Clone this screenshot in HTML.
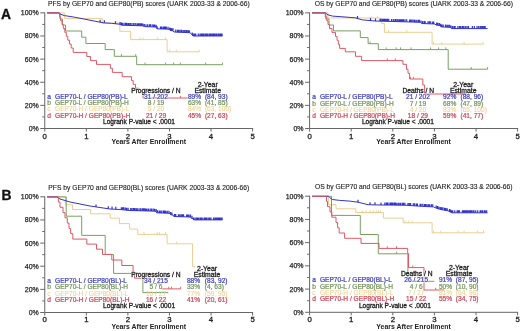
<!DOCTYPE html><html><head><meta charset="utf-8"><style>html,body{margin:0;padding:0;background:#fff;overflow:hidden}svg{display:block;will-change:transform}</style></head><body><svg width="520" height="331" viewBox="0 0 520 331" font-family='"Liberation Sans", sans-serif'>
<rect width="520" height="331" fill="#fff"/>
<text x="1.00" y="18.80" font-size="13.9" fill="#111" text-anchor="start" font-weight="bold" stroke="#111" stroke-width="0.3" >A</text>
<text x="1.60" y="199.90" font-size="13.9" fill="#111" text-anchor="start" font-weight="bold" stroke="#111" stroke-width="0.3" >B</text>
<path d="M44.75 12.35V128.5H253.1" stroke="#666" stroke-width="1" fill="none"/>
<path d="M40.25 128.50H44.75" stroke="#666" stroke-width="1"/>
<text x="38.75" y="130.95" font-size="7.7" fill="#222" text-anchor="end" font-weight="normal" stroke="#222" stroke-width="0.25" textLength="10.12" lengthAdjust="spacingAndGlyphs">0%</text>
<path d="M42.25 116.94H44.75" stroke="#666" stroke-width="1"/>
<path d="M40.25 105.37H44.75" stroke="#666" stroke-width="1"/>
<text x="38.75" y="107.82" font-size="7.7" fill="#222" text-anchor="end" font-weight="normal" stroke="#222" stroke-width="0.25" textLength="14.01" lengthAdjust="spacingAndGlyphs">20%</text>
<path d="M42.25 93.81H44.75" stroke="#666" stroke-width="1"/>
<path d="M40.25 82.24H44.75" stroke="#666" stroke-width="1"/>
<text x="38.75" y="84.69" font-size="7.7" fill="#222" text-anchor="end" font-weight="normal" stroke="#222" stroke-width="0.25" textLength="14.01" lengthAdjust="spacingAndGlyphs">40%</text>
<path d="M42.25 70.67H44.75" stroke="#666" stroke-width="1"/>
<path d="M40.25 59.11H44.75" stroke="#666" stroke-width="1"/>
<text x="38.75" y="61.56" font-size="7.7" fill="#222" text-anchor="end" font-weight="normal" stroke="#222" stroke-width="0.25" textLength="14.01" lengthAdjust="spacingAndGlyphs">60%</text>
<path d="M42.25 47.54H44.75" stroke="#666" stroke-width="1"/>
<path d="M40.25 35.98H44.75" stroke="#666" stroke-width="1"/>
<text x="38.75" y="38.43" font-size="7.7" fill="#222" text-anchor="end" font-weight="normal" stroke="#222" stroke-width="0.25" textLength="14.01" lengthAdjust="spacingAndGlyphs">80%</text>
<path d="M42.25 24.41H44.75" stroke="#666" stroke-width="1"/>
<path d="M40.25 12.85H44.75" stroke="#666" stroke-width="1"/>
<text x="38.75" y="15.30" font-size="7.7" fill="#222" text-anchor="end" font-weight="normal" stroke="#222" stroke-width="0.25" textLength="17.90" lengthAdjust="spacingAndGlyphs">100%</text>
<path d="M44.75 128.5V131.5" stroke="#666" stroke-width="1"/>
<text x="44.75" y="138.50" font-size="7.8" fill="#222" text-anchor="middle" font-weight="normal" stroke="#222" stroke-width="0.3" >0</text>
<path d="M86.32 128.5V131.5" stroke="#666" stroke-width="1"/>
<text x="86.32" y="138.50" font-size="7.8" fill="#222" text-anchor="middle" font-weight="normal" stroke="#222" stroke-width="0.3" >1</text>
<path d="M127.89 128.5V131.5" stroke="#666" stroke-width="1"/>
<text x="127.89" y="138.50" font-size="7.8" fill="#222" text-anchor="middle" font-weight="normal" stroke="#222" stroke-width="0.3" >2</text>
<path d="M169.46 128.5V131.5" stroke="#666" stroke-width="1"/>
<text x="169.46" y="138.50" font-size="7.8" fill="#222" text-anchor="middle" font-weight="normal" stroke="#222" stroke-width="0.3" >3</text>
<path d="M211.03 128.5V131.5" stroke="#666" stroke-width="1"/>
<text x="211.03" y="138.50" font-size="7.8" fill="#222" text-anchor="middle" font-weight="normal" stroke="#222" stroke-width="0.3" >4</text>
<path d="M252.60 128.5V131.5" stroke="#666" stroke-width="1"/>
<text x="252.60" y="138.50" font-size="7.8" fill="#222" text-anchor="middle" font-weight="normal" stroke="#222" stroke-width="0.3" >5</text>
<text x="148.68" y="144.40" font-size="6.95" fill="#222" text-anchor="middle" font-weight="bold" >Years After Enrollment</text>
<text x="48.00" y="5.60" font-size="6.72" fill="#222" text-anchor="start" font-weight="normal" stroke="#222" stroke-width="0.12" >PFS by GEP70 and GEP80(PB) scores (UARK 2003-33 &amp; 2006-66)</text>
<path d="M309.6 12.35V128.5H518.1" stroke="#666" stroke-width="1" fill="none"/>
<path d="M305.1 128.50H309.6" stroke="#666" stroke-width="1"/>
<text x="303.60" y="130.95" font-size="7.7" fill="#222" text-anchor="end" font-weight="normal" stroke="#222" stroke-width="0.25" textLength="10.12" lengthAdjust="spacingAndGlyphs">0%</text>
<path d="M307.1 116.94H309.6" stroke="#666" stroke-width="1"/>
<path d="M305.1 105.37H309.6" stroke="#666" stroke-width="1"/>
<text x="303.60" y="107.82" font-size="7.7" fill="#222" text-anchor="end" font-weight="normal" stroke="#222" stroke-width="0.25" textLength="14.01" lengthAdjust="spacingAndGlyphs">20%</text>
<path d="M307.1 93.81H309.6" stroke="#666" stroke-width="1"/>
<path d="M305.1 82.24H309.6" stroke="#666" stroke-width="1"/>
<text x="303.60" y="84.69" font-size="7.7" fill="#222" text-anchor="end" font-weight="normal" stroke="#222" stroke-width="0.25" textLength="14.01" lengthAdjust="spacingAndGlyphs">40%</text>
<path d="M307.1 70.67H309.6" stroke="#666" stroke-width="1"/>
<path d="M305.1 59.11H309.6" stroke="#666" stroke-width="1"/>
<text x="303.60" y="61.56" font-size="7.7" fill="#222" text-anchor="end" font-weight="normal" stroke="#222" stroke-width="0.25" textLength="14.01" lengthAdjust="spacingAndGlyphs">60%</text>
<path d="M307.1 47.54H309.6" stroke="#666" stroke-width="1"/>
<path d="M305.1 35.98H309.6" stroke="#666" stroke-width="1"/>
<text x="303.60" y="38.43" font-size="7.7" fill="#222" text-anchor="end" font-weight="normal" stroke="#222" stroke-width="0.25" textLength="14.01" lengthAdjust="spacingAndGlyphs">80%</text>
<path d="M307.1 24.41H309.6" stroke="#666" stroke-width="1"/>
<path d="M305.1 12.85H309.6" stroke="#666" stroke-width="1"/>
<text x="303.60" y="15.30" font-size="7.7" fill="#222" text-anchor="end" font-weight="normal" stroke="#222" stroke-width="0.25" textLength="17.90" lengthAdjust="spacingAndGlyphs">100%</text>
<path d="M309.60 128.5V131.5" stroke="#666" stroke-width="1"/>
<text x="309.60" y="138.50" font-size="7.8" fill="#222" text-anchor="middle" font-weight="normal" stroke="#222" stroke-width="0.3" >0</text>
<path d="M351.20 128.5V131.5" stroke="#666" stroke-width="1"/>
<text x="351.20" y="138.50" font-size="7.8" fill="#222" text-anchor="middle" font-weight="normal" stroke="#222" stroke-width="0.3" >1</text>
<path d="M392.80 128.5V131.5" stroke="#666" stroke-width="1"/>
<text x="392.80" y="138.50" font-size="7.8" fill="#222" text-anchor="middle" font-weight="normal" stroke="#222" stroke-width="0.3" >2</text>
<path d="M434.40 128.5V131.5" stroke="#666" stroke-width="1"/>
<text x="434.40" y="138.50" font-size="7.8" fill="#222" text-anchor="middle" font-weight="normal" stroke="#222" stroke-width="0.3" >3</text>
<path d="M476.00 128.5V131.5" stroke="#666" stroke-width="1"/>
<text x="476.00" y="138.50" font-size="7.8" fill="#222" text-anchor="middle" font-weight="normal" stroke="#222" stroke-width="0.3" >4</text>
<path d="M517.60 128.5V131.5" stroke="#666" stroke-width="1"/>
<text x="517.60" y="138.50" font-size="7.8" fill="#222" text-anchor="middle" font-weight="normal" stroke="#222" stroke-width="0.3" >5</text>
<text x="413.60" y="144.40" font-size="6.95" fill="#222" text-anchor="middle" font-weight="bold" >Years After Enrollment</text>
<text x="314.75" y="5.60" font-size="6.72" fill="#222" text-anchor="start" font-weight="normal" stroke="#222" stroke-width="0.12" >OS by GEP70 and GEP80(PB) scores (UARK 2003-33 &amp; 2006-66)</text>
<path d="M44.75 196.3V312.5H253.1" stroke="#666" stroke-width="1" fill="none"/>
<path d="M40.25 312.50H44.75" stroke="#666" stroke-width="1"/>
<text x="38.75" y="314.95" font-size="7.7" fill="#222" text-anchor="end" font-weight="normal" stroke="#222" stroke-width="0.25" textLength="10.12" lengthAdjust="spacingAndGlyphs">0%</text>
<path d="M42.25 300.93H44.75" stroke="#666" stroke-width="1"/>
<path d="M40.25 289.36H44.75" stroke="#666" stroke-width="1"/>
<text x="38.75" y="291.81" font-size="7.7" fill="#222" text-anchor="end" font-weight="normal" stroke="#222" stroke-width="0.25" textLength="14.01" lengthAdjust="spacingAndGlyphs">20%</text>
<path d="M42.25 277.79H44.75" stroke="#666" stroke-width="1"/>
<path d="M40.25 266.22H44.75" stroke="#666" stroke-width="1"/>
<text x="38.75" y="268.67" font-size="7.7" fill="#222" text-anchor="end" font-weight="normal" stroke="#222" stroke-width="0.25" textLength="14.01" lengthAdjust="spacingAndGlyphs">40%</text>
<path d="M42.25 254.65H44.75" stroke="#666" stroke-width="1"/>
<path d="M40.25 243.08H44.75" stroke="#666" stroke-width="1"/>
<text x="38.75" y="245.53" font-size="7.7" fill="#222" text-anchor="end" font-weight="normal" stroke="#222" stroke-width="0.25" textLength="14.01" lengthAdjust="spacingAndGlyphs">60%</text>
<path d="M42.25 231.51H44.75" stroke="#666" stroke-width="1"/>
<path d="M40.25 219.94H44.75" stroke="#666" stroke-width="1"/>
<text x="38.75" y="222.39" font-size="7.7" fill="#222" text-anchor="end" font-weight="normal" stroke="#222" stroke-width="0.25" textLength="14.01" lengthAdjust="spacingAndGlyphs">80%</text>
<path d="M42.25 208.37H44.75" stroke="#666" stroke-width="1"/>
<path d="M40.25 196.80H44.75" stroke="#666" stroke-width="1"/>
<text x="38.75" y="199.25" font-size="7.7" fill="#222" text-anchor="end" font-weight="normal" stroke="#222" stroke-width="0.25" textLength="17.90" lengthAdjust="spacingAndGlyphs">100%</text>
<path d="M44.75 312.5V315.5" stroke="#666" stroke-width="1"/>
<text x="44.75" y="322.30" font-size="7.8" fill="#222" text-anchor="middle" font-weight="normal" stroke="#222" stroke-width="0.3" >0</text>
<path d="M86.32 312.5V315.5" stroke="#666" stroke-width="1"/>
<text x="86.32" y="322.30" font-size="7.8" fill="#222" text-anchor="middle" font-weight="normal" stroke="#222" stroke-width="0.3" >1</text>
<path d="M127.89 312.5V315.5" stroke="#666" stroke-width="1"/>
<text x="127.89" y="322.30" font-size="7.8" fill="#222" text-anchor="middle" font-weight="normal" stroke="#222" stroke-width="0.3" >2</text>
<path d="M169.46 312.5V315.5" stroke="#666" stroke-width="1"/>
<text x="169.46" y="322.30" font-size="7.8" fill="#222" text-anchor="middle" font-weight="normal" stroke="#222" stroke-width="0.3" >3</text>
<path d="M211.03 312.5V315.5" stroke="#666" stroke-width="1"/>
<text x="211.03" y="322.30" font-size="7.8" fill="#222" text-anchor="middle" font-weight="normal" stroke="#222" stroke-width="0.3" >4</text>
<path d="M252.60 312.5V315.5" stroke="#666" stroke-width="1"/>
<text x="252.60" y="322.30" font-size="7.8" fill="#222" text-anchor="middle" font-weight="normal" stroke="#222" stroke-width="0.3" >5</text>
<text x="148.68" y="328.50" font-size="6.95" fill="#222" text-anchor="middle" font-weight="bold" >Years After Enrollment</text>
<text x="48.30" y="189.50" font-size="6.72" fill="#222" text-anchor="start" font-weight="normal" stroke="#222" stroke-width="0.12" >PFS by GEP70 and GEP80(BL) scores (UARK 2003-33 &amp; 2006-66)</text>
<path d="M309.6 195.7V312.3H518.1" stroke="#666" stroke-width="1" fill="none"/>
<path d="M305.1 312.30H309.6" stroke="#666" stroke-width="1"/>
<text x="303.60" y="314.75" font-size="7.7" fill="#222" text-anchor="end" font-weight="normal" stroke="#222" stroke-width="0.25" textLength="10.12" lengthAdjust="spacingAndGlyphs">0%</text>
<path d="M307.1 300.69H309.6" stroke="#666" stroke-width="1"/>
<path d="M305.1 289.08H309.6" stroke="#666" stroke-width="1"/>
<text x="303.60" y="291.53" font-size="7.7" fill="#222" text-anchor="end" font-weight="normal" stroke="#222" stroke-width="0.25" textLength="14.01" lengthAdjust="spacingAndGlyphs">20%</text>
<path d="M307.1 277.47H309.6" stroke="#666" stroke-width="1"/>
<path d="M305.1 265.86H309.6" stroke="#666" stroke-width="1"/>
<text x="303.60" y="268.31" font-size="7.7" fill="#222" text-anchor="end" font-weight="normal" stroke="#222" stroke-width="0.25" textLength="14.01" lengthAdjust="spacingAndGlyphs">40%</text>
<path d="M307.1 254.25H309.6" stroke="#666" stroke-width="1"/>
<path d="M305.1 242.64H309.6" stroke="#666" stroke-width="1"/>
<text x="303.60" y="245.09" font-size="7.7" fill="#222" text-anchor="end" font-weight="normal" stroke="#222" stroke-width="0.25" textLength="14.01" lengthAdjust="spacingAndGlyphs">60%</text>
<path d="M307.1 231.03H309.6" stroke="#666" stroke-width="1"/>
<path d="M305.1 219.42H309.6" stroke="#666" stroke-width="1"/>
<text x="303.60" y="221.87" font-size="7.7" fill="#222" text-anchor="end" font-weight="normal" stroke="#222" stroke-width="0.25" textLength="14.01" lengthAdjust="spacingAndGlyphs">80%</text>
<path d="M307.1 207.81H309.6" stroke="#666" stroke-width="1"/>
<path d="M305.1 196.20H309.6" stroke="#666" stroke-width="1"/>
<text x="303.60" y="198.65" font-size="7.7" fill="#222" text-anchor="end" font-weight="normal" stroke="#222" stroke-width="0.25" textLength="17.90" lengthAdjust="spacingAndGlyphs">100%</text>
<path d="M309.60 312.3V315.3" stroke="#666" stroke-width="1"/>
<text x="309.60" y="322.10" font-size="7.8" fill="#222" text-anchor="middle" font-weight="normal" stroke="#222" stroke-width="0.3" >0</text>
<path d="M351.20 312.3V315.3" stroke="#666" stroke-width="1"/>
<text x="351.20" y="322.10" font-size="7.8" fill="#222" text-anchor="middle" font-weight="normal" stroke="#222" stroke-width="0.3" >1</text>
<path d="M392.80 312.3V315.3" stroke="#666" stroke-width="1"/>
<text x="392.80" y="322.10" font-size="7.8" fill="#222" text-anchor="middle" font-weight="normal" stroke="#222" stroke-width="0.3" >2</text>
<path d="M434.40 312.3V315.3" stroke="#666" stroke-width="1"/>
<text x="434.40" y="322.10" font-size="7.8" fill="#222" text-anchor="middle" font-weight="normal" stroke="#222" stroke-width="0.3" >3</text>
<path d="M476.00 312.3V315.3" stroke="#666" stroke-width="1"/>
<text x="476.00" y="322.10" font-size="7.8" fill="#222" text-anchor="middle" font-weight="normal" stroke="#222" stroke-width="0.3" >4</text>
<path d="M517.60 312.3V315.3" stroke="#666" stroke-width="1"/>
<text x="517.60" y="322.10" font-size="7.8" fill="#222" text-anchor="middle" font-weight="normal" stroke="#222" stroke-width="0.3" >5</text>
<text x="413.60" y="328.50" font-size="6.95" fill="#222" text-anchor="middle" font-weight="bold" >Years After Enrollment</text>
<text x="315.00" y="189.20" font-size="6.72" fill="#222" text-anchor="start" font-weight="normal" stroke="#222" stroke-width="0.12" >OS by GEP70 and GEP80(BL) scores (UARK 2003-33 &amp; 2006-66)</text>
<path d="M47.00 12.90H64.40V18.40H102.30V23.10H119.80V31.30H130.60V39.60H167.10V51.80H199.10V51.80" stroke="#edcd90" stroke-width="1.0" fill="none"/>
<path d="M140.00 39.60V37.40M143.00 39.60V37.40M157.30 39.60V37.40M165.50 39.60V37.40M169.60 51.80V49.60M176.30 51.80V49.60M199.10 51.80V49.60" stroke="#edcd90" stroke-width="0.9" fill="none"/>
<path d="M47.00 12.90H60.00V19.00H62.50V25.00H65.50V31.00H81.70V37.20H85.90V43.50H105.20V49.60H114.30V56.30H136.70V64.70H222.50V64.70" stroke="#78a062" stroke-width="1.0" fill="none"/>
<path d="M121.50 56.30V54.10M135.70 56.30V54.10M145.00 64.70V62.50M165.50 64.70V62.50M173.60 64.70V62.50M180.40 64.70V62.50M205.60 64.70V62.50M222.50 64.70V62.50" stroke="#78a062" stroke-width="0.9" fill="none"/>
<path d="M47.00 12.90 L58.50 12.90 L59.30 13.80 L64.40 15.60 L74.60 17.20 L84.80 19.20 L95.00 21.20 L103.20 22.80 L111.30 23.30 L119.50 24.20 L121.50 25.20 L142.50 25.80 L144.50 26.60 L156.00 27.00 L157.00 28.80 L169.00 29.20 L170.00 30.40 L173.00 30.80 L174.00 32.00 L190.00 32.70 L191.50 34.00 L193.00 36.00 L222.50 36.00" stroke="#3333c8" stroke-width="1.0" fill="none"/>
<path d="M100.11 22.20V19.70M104.36 22.87V20.37M115.49 23.76V21.26M120.00 24.45V21.95M121.33 25.12V22.62M122.40 25.23V22.73M124.05 25.27V22.77M125.59 25.32V22.82M126.59 25.35V22.85M128.01 25.39V22.89M128.98 25.41V22.91M130.31 25.45V22.95M131.97 25.50V23.00M133.66 25.55V23.05M135.25 25.59V23.09M136.95 25.64V23.14M137.98 25.67V23.17M139.10 25.70V23.20M140.40 25.74V23.24M141.59 25.77V23.27M142.84 25.94V23.44M144.26 26.51V24.01M145.94 26.65V24.15M147.64 26.71V24.21M149.39 26.77V24.27M150.46 26.81V24.31M152.19 26.87V24.37M153.59 26.92V24.42M154.71 26.96V24.46M156.12 27.22V24.72M157.12 28.80V26.30M160.46 28.92V26.42M161.52 28.95V26.45M163.09 29.00V26.50M164.07 29.04V26.54M165.05 29.07V26.57M166.27 29.11V26.61M168.01 29.17V26.67M169.76 30.11V27.61M170.77 30.50V28.00M171.74 30.63V28.13M173.01 30.82V28.32M175.73 32.08V29.58M177.45 32.15V29.65M178.71 32.21V29.71M180.07 32.27V29.77M181.50 32.33V29.83M182.95 32.39V29.89M184.30 32.45V29.95M185.83 32.52V30.02M187.02 32.57V30.07M188.39 32.63V30.13M189.34 32.67V30.17M192.20 34.93V32.43M193.19 36.00V33.50M194.52 36.00V33.50M195.75 36.00V33.50M198.28 36.00V33.50M200.01 36.00V33.50M201.32 36.00V33.50M202.53 36.00V33.50M203.73 36.00V33.50M205.15 36.00V33.50M206.40 36.00V33.50M207.37 36.00V33.50M208.91 36.00V33.50M210.04 36.00V33.50M211.17 36.00V33.50M212.47 36.00V33.50M213.50 36.00V33.50M214.71 36.00V33.50M216.01 36.00V33.50M217.10 36.00V33.50M218.57 36.00V33.50M219.88 36.00V33.50M220.92 36.00V33.50M222.02 36.00V33.50" stroke="#3333c8" stroke-width="1.2" fill="none"/>
<path d="M47.00 12.90H59.50V16.80H60.60V20.70H62.00V24.60H63.30V28.50H64.80V32.40H66.30V36.30H67.80V40.20H69.50V44.10H71.20V48.00H73.20V52.40H86.80V56.50H90.50V60.60H96.50V64.40H110.40V68.30H112.40V72.40H122.20V76.70H131.50V80.60H133.20V84.40H135.50V88.20H138.50V92.20H143.00V98.00H187.70V98.00" stroke="#e05866" stroke-width="1.0" fill="none"/>
<path d="M180.40 98.00V95.80" stroke="#e05866" stroke-width="0.9" fill="none"/>
<path d="M312.00 12.90H328.00V18.00H381.20V23.30H384.40V32.30H432.10V44.10H483.50V44.10" stroke="#edcd90" stroke-width="1.0" fill="none"/>
<path d="M357.50 18.00V15.80M371.20 18.00V15.80M377.50 18.00V15.80M388.50 32.30V30.10M406.80 32.30V30.10M433.50 44.10V41.90M441.70 44.10V41.90M464.10 44.10V41.90M483.10 44.10V41.90" stroke="#edcd90" stroke-width="0.9" fill="none"/>
<path d="M312.00 12.90H325.80V19.00H329.00V25.00H333.50V30.90H360.30V37.60H368.10V43.70H378.30V49.60H448.20V69.20H487.60V69.20" stroke="#78a062" stroke-width="1.0" fill="none"/>
<path d="M370.00 43.70V41.50M386.20 49.60V47.40M396.20 49.60V47.40M400.50 49.60V47.40M411.00 49.60V47.40M430.50 49.60V47.40M438.60 49.60V47.40M445.80 49.60V47.40M471.20 69.20V67.00M487.60 69.20V67.00" stroke="#78a062" stroke-width="0.9" fill="none"/>
<path d="M312.00 12.90 L325.60 12.90 L327.00 14.50 L332.50 16.10 L345.00 17.00 L355.00 17.80 L362.50 19.90 L375.00 21.00 L405.00 21.80 L420.50 22.30 L421.50 23.50 L435.00 24.00 L436.00 25.00 L440.00 25.50 L441.00 26.90 L450.30 27.30 L451.30 28.60 L487.60 28.60" stroke="#3333c8" stroke-width="1.0" fill="none"/>
<path d="M357.50 18.50V16.00M370.50 20.60V18.10M375.50 21.01V18.51M380.00 21.13V18.63M381.17 21.16V18.66M382.64 21.20V18.70M383.86 21.24V18.74M385.04 21.27V18.77M386.21 21.30V18.80M387.49 21.33V18.83M388.77 21.37V18.87M391.55 21.44V18.94M393.29 21.49V18.99M395.01 21.53V19.03M396.13 21.56V19.06M397.75 21.61V19.11M399.12 21.64V19.14M400.34 21.68V19.18M401.34 21.70V19.20M402.52 21.73V19.23M403.50 21.76V19.26M405.01 21.80V19.30M406.68 21.85V19.35M409.64 21.95V19.45M410.83 21.99V19.49M412.20 22.03V19.53M413.90 22.09V19.59M415.12 22.13V19.63M416.77 22.18V19.68M418.34 22.23V19.73M419.45 22.27V19.77M421.06 22.97V20.47M422.64 23.54V21.04M424.24 23.60V21.10M425.19 23.64V21.14M428.00 23.74V21.24M429.37 23.79V21.29M430.70 23.84V21.34M432.69 23.91V21.41M433.69 23.95V21.45M436.68 25.09V22.59M437.88 25.24V22.74M439.35 25.42V22.92M440.59 26.33V23.83M441.80 26.93V24.43M443.20 26.99V24.49M445.54 27.10V24.60M446.97 27.16V24.66M448.23 27.21V24.71M449.68 27.27V24.77M450.92 28.11V25.61M452.44 28.60V26.10M453.94 28.60V26.10M455.09 28.60V26.10M457.88 28.60V26.10M459.54 28.60V26.10M460.79 28.60V26.10M462.38 28.60V26.10M463.70 28.60V26.10M465.30 28.60V26.10M466.96 28.60V26.10M468.45 28.60V26.10M472.33 28.60V26.10M474.34 28.60V26.10M477.06 28.60V26.10M478.69 28.60V26.10M480.31 28.60V26.10M481.72 28.60V26.10M482.70 28.60V26.10M484.06 28.60V26.10M485.09 28.60V26.10" stroke="#3333c8" stroke-width="1.2" fill="none"/>
<path d="M312.00 12.90H325.30V16.80H326.80V20.70H328.00V24.60H329.50V28.50H332.00V32.40H335.50V36.40H337.00V40.30H338.30V44.30H339.60V48.40H345.30V51.80H355.50V56.30H361.60V60.60H402.90V64.30H406.50V69.30H408.00V73.30H409.60V79.00H422.80V85.00H424.60V94.00H466.00V94.00" stroke="#e05866" stroke-width="1.0" fill="none"/>
<path d="M387.30 60.60V58.40M395.30 60.60V58.40M410.60 79.00V76.80M413.60 79.00V76.80" stroke="#e05866" stroke-width="0.9" fill="none"/>
<path d="M47.00 196.90H65.40V204.80H72.50V209.50H90.60V213.80H110.20V218.10H119.40V223.60H129.60V229.10H137.80V234.40H167.10V243.80H192.60V266.60H195.00V266.60" stroke="#edcd90" stroke-width="1.0" fill="none"/>
<path d="M144.00 234.40V232.20M157.30 234.40V232.20M159.40 234.40V232.20M165.50 234.40V232.20M176.70 243.80V241.60" stroke="#edcd90" stroke-width="0.9" fill="none"/>
<path d="M47.00 196.90H66.20V216.20H81.70V235.40H105.20V254.50H113.60V273.40H142.90V292.60H168.30V292.60" stroke="#78a062" stroke-width="1.0" fill="none"/>
<path d="" stroke="#78a062" stroke-width="0.9" fill="none"/>
<path d="M47.00 196.90 L57.00 196.90 L60.00 199.00 L65.00 200.50 L70.00 202.00 L80.00 204.00 L90.00 206.00 L100.00 207.50 L110.00 209.00 L120.00 209.50 L130.00 210.50 L140.00 210.75 L156.00 211.20 L156.50 212.80 L170.00 213.30 L170.80 214.80 L173.00 215.00 L173.80 216.50 L190.50 217.00 L191.00 218.10 L193.00 218.50 L193.60 219.90 L222.50 219.90" stroke="#3333c8" stroke-width="1.0" fill="none"/>
<path d="M96.00 206.90V204.40M108.30 208.74V206.24M112.04 209.10V206.60M115.79 209.29V206.79M121.35 209.64V207.14M122.63 209.76V207.26M123.70 209.87V207.37M125.26 210.03V207.53M126.63 210.16V207.66M128.09 210.31V207.81M130.71 210.52V208.02M132.07 210.55V208.05M133.60 210.59V208.09M134.76 210.62V208.12M136.18 210.65V208.15M137.31 210.68V208.18M139.03 210.73V208.23M140.55 210.77V208.27M142.18 210.81V208.31M143.35 210.84V208.34M144.31 210.87V208.37M145.56 210.91V208.41M146.80 210.94V208.44M148.37 210.99V208.49M150.12 211.03V208.53M151.55 211.07V208.57M153.17 211.12V208.62M154.57 211.16V208.66M156.10 211.51V209.01M157.37 212.83V210.33M159.09 212.90V210.40M160.22 212.94V210.44M161.75 212.99V210.49M163.47 213.06V210.56M164.61 213.10V210.60M165.76 213.14V210.64M167.28 213.20V210.70M168.95 213.26V210.76M170.60 214.42V211.92M171.89 214.90V212.40M174.52 216.52V214.02M175.76 216.56V214.06M178.46 216.64V214.14M179.80 216.68V214.18M181.22 216.72V214.22M182.48 216.76V214.26M183.53 216.79V214.29M186.67 216.89V214.39M187.70 216.92V214.42M188.94 216.95V214.45M190.50 217.01V214.51M192.00 218.30V215.80M193.59 219.88V217.38M195.15 219.90V217.40M196.64 219.90V217.40M197.68 219.90V217.40M198.91 219.90V217.40M200.40 219.90V217.40M201.49 219.90V217.40M202.95 219.90V217.40M204.62 219.90V217.40M205.66 219.90V217.40M206.72 219.90V217.40M208.25 219.90V217.40M209.64 219.90V217.40M210.96 219.90V217.40M213.57 219.90V217.40M214.96 219.90V217.40M216.19 219.90V217.40M217.45 219.90V217.40M218.43 219.90V217.40M219.57 219.90V217.40M220.80 219.90V217.40M222.08 219.90V217.40" stroke="#3333c8" stroke-width="1.2" fill="none"/>
<path d="M47.00 196.90H58.40V202.10H60.00V207.30H63.00V212.60H65.00V217.80H67.30V223.10H69.00V228.40H70.60V233.60H72.80V239.10H86.80V244.10H96.50V249.20H102.50V254.40H111.80V260.00H121.80V265.50H133.10V272.00H134.50V278.20H150.00V283.60H161.50V288.90H180.60V288.90" stroke="#e05866" stroke-width="1.0" fill="none"/>
<path d="M168.75 288.90V286.70M171.50 288.90V286.70M180.60 288.90V286.70" stroke="#e05866" stroke-width="0.9" fill="none"/>
<path d="M312.00 196.30H328.50V204.70H336.00V208.80H355.80V212.50H383.40V218.10H403.20V222.80H432.10V232.80H484.50V232.80" stroke="#edcd90" stroke-width="1.0" fill="none"/>
<path d="M362.00 212.50V210.30M366.00 212.50V210.30M370.10 212.50V210.30M373.20 212.50V210.30M376.30 212.50V210.30M378.50 212.50V210.30M380.30 212.50V210.30M404.80 222.80V220.60M408.90 222.80V220.60M412.00 222.80V220.60M433.50 232.80V230.60M440.70 232.80V230.60M458.00 232.80V230.60M464.10 232.80V230.60M477.40 232.80V230.60M483.50 232.80V230.60" stroke="#edcd90" stroke-width="0.9" fill="none"/>
<path d="M312.00 196.30H331.50V215.40H360.30V234.50H378.30V253.80H407.90V281.30H434.40V281.30" stroke="#78a062" stroke-width="1.0" fill="none"/>
<path d="M396.60 253.80V251.60" stroke="#78a062" stroke-width="0.9" fill="none"/>
<path d="M312.00 196.30 L328.50 196.30 L330.00 197.80 L332.40 199.50 L339.60 200.40 L349.80 201.10 L357.90 202.20 L364.00 203.70 L368.10 204.70 L380.00 205.00 L405.00 205.20 L421.30 206.30 L433.50 206.90 L435.60 207.90 L439.70 209.30 L447.80 210.75 L451.90 212.80 L487.60 212.80" stroke="#3333c8" stroke-width="1.0" fill="none"/>
<path d="M358.00 202.22V199.72M370.00 204.75V202.25M375.00 204.87V202.37M381.00 205.01V202.51M384.83 205.04V202.54M386.37 205.05V202.55M387.46 205.06V202.56M389.01 205.07V202.57M390.56 205.08V202.58M391.63 205.09V202.59M392.73 205.10V202.60M394.13 205.11V202.61M395.28 205.12V202.62M396.25 205.13V202.63M397.92 205.14V202.64M399.17 205.15V202.65M400.59 205.16V202.66M402.33 205.18V202.68M403.51 205.19V202.69M404.85 205.20V202.70M407.95 205.40V202.90M409.30 205.49V202.99M410.61 205.58V203.08M413.34 205.76V203.26M414.64 205.85V203.35M416.37 205.97V203.47M417.42 206.04V203.54M420.11 206.22V203.72M421.11 206.29V203.79M422.81 206.37V203.87M424.46 206.46V203.96M425.52 206.51V204.01M426.95 206.58V204.08M428.47 206.65V204.15M429.70 206.71V204.21M431.40 206.80V204.30M432.70 206.86V204.36M436.12 208.08V205.58M437.47 208.54V206.04M438.85 209.01V206.51M440.32 209.41V206.91M441.64 209.65V207.15M442.91 209.87V207.37M444.58 210.17V207.67M445.83 210.40V207.90M447.20 210.64V208.14M449.44 211.57V209.07M450.50 212.10V209.60M451.61 212.65V210.15M452.69 212.80V210.30M454.80 212.80V210.30M457.11 212.80V210.30M458.38 212.80V210.30M459.37 212.80V210.30M462.36 212.80V210.30M463.39 212.80V210.30M464.46 212.80V210.30M465.69 212.80V210.30M466.68 212.80V210.30M467.84 212.80V210.30M469.17 212.80V210.30M470.36 212.80V210.30M471.52 212.80V210.30M472.97 212.80V210.30M473.99 212.80V210.30M475.72 212.80V210.30M477.69 212.80V210.30M480.14 212.80V210.30M481.24 212.80V210.30M482.58 212.80V210.30M484.26 212.80V210.30M485.24 212.80V210.30M486.67 212.80V210.30" stroke="#3333c8" stroke-width="1.2" fill="none"/>
<path d="M312.00 196.30H326.50V201.50H327.50V206.70H330.00V212.00H331.80V217.20H336.00V222.50H337.60V227.80H339.20V233.00H344.60V238.30H361.00V243.40H379.00V248.40H407.70V253.50H408.50V267.60H424.00V290.00H444.00V290.00" stroke="#e05866" stroke-width="1.0" fill="none"/>
<path d="M387.30 248.40V246.20M396.50 248.40V246.20M412.80 267.60V265.40M435.70 290.00V287.80" stroke="#e05866" stroke-width="0.9" fill="none"/>
<text x="155.90" y="92.90" font-size="6.7" fill="#fff" text-anchor="middle" font-weight="normal" stroke="#fff" stroke-width="1.2" >Progressions / N</text>
<text x="155.90" y="92.90" font-size="6.7" fill="#222" text-anchor="middle" font-weight="normal" stroke="#222" stroke-width="0.3" >Progressions / N</text>
<text x="207.70" y="86.90" font-size="6.9" fill="#222" text-anchor="middle" font-weight="normal" stroke="#222" stroke-width="0.3" >2-Year</text>
<text x="207.70" y="92.80" font-size="6.85" fill="#222" text-anchor="middle" font-weight="normal" stroke="#222" stroke-width="0.3" >Estimate</text>
<text x="47.35" y="98.70" font-size="6.6" fill="#4040c4" text-anchor="start" font-weight="normal" stroke="#4040c4" stroke-width="0.22" >a</text>
<text x="55.05" y="98.70" font-size="6.6" fill="#4040c4" text-anchor="start" font-weight="normal" stroke="#4040c4" stroke-width="0.22" >GEP70-L / GEP80(PB)-L</text>
<text x="156.00" y="98.70" font-size="6.6" fill="#fff" text-anchor="middle" font-weight="normal" stroke="#fff" stroke-width="1.2" >31 / 202</text>
<text x="156.00" y="98.70" font-size="6.6" fill="#4040c4" text-anchor="middle" font-weight="normal" stroke="#4040c4" stroke-width="0.22" >31 / 202</text>
<text x="187.90" y="98.70" font-size="6.6" fill="#4040c4" text-anchor="start" font-weight="normal" stroke="#4040c4" stroke-width="0.22" >89%</text>
<text x="204.90" y="98.70" font-size="6.6" fill="#4040c4" text-anchor="start" font-weight="normal" stroke="#4040c4" stroke-width="0.22" >(84, 93)</text>
<text x="47.35" y="105.00" font-size="6.6" fill="#72955c" text-anchor="start" font-weight="normal" stroke="#72955c" stroke-width="0.22" >b</text>
<text x="55.05" y="105.00" font-size="6.6" fill="#72955c" text-anchor="start" font-weight="normal" stroke="#72955c" stroke-width="0.22" >GEP70-L / GEP80(PB)-H</text>
<text x="156.00" y="105.00" font-size="6.6" fill="#fff" text-anchor="middle" font-weight="normal" stroke="#fff" stroke-width="1.2" >8 / 19</text>
<text x="156.00" y="105.00" font-size="6.6" fill="#72955c" text-anchor="middle" font-weight="normal" stroke="#72955c" stroke-width="0.22" >8 / 19</text>
<text x="187.90" y="105.00" font-size="6.6" fill="#72955c" text-anchor="start" font-weight="normal" stroke="#72955c" stroke-width="0.22" >63%</text>
<text x="204.90" y="105.00" font-size="6.6" fill="#72955c" text-anchor="start" font-weight="normal" stroke="#72955c" stroke-width="0.22" >(41, 85)</text>
<text x="47.35" y="111.25" font-size="6.6" fill="#f0d294" text-anchor="start" font-weight="normal" stroke="#f0d294" stroke-width="0.12" >c</text>
<text x="55.05" y="111.25" font-size="6.6" fill="#f0d294" text-anchor="start" font-weight="normal" stroke="#f0d294" stroke-width="0.12" >GEP70-H / GEP80(PB)-L</text>
<text x="156.00" y="111.25" font-size="6.6" fill="#f0d294" text-anchor="middle" font-weight="normal" stroke="#f0d294" stroke-width="0.12" >5 / 20</text>
<text x="187.90" y="111.25" font-size="6.6" fill="#f0d294" text-anchor="start" font-weight="normal" stroke="#f0d294" stroke-width="0.12" >84%</text>
<text x="204.90" y="111.25" font-size="6.6" fill="#f0d294" text-anchor="start" font-weight="normal" stroke="#f0d294" stroke-width="0.12" >(63, 100)</text>
<text x="47.35" y="117.55" font-size="6.6" fill="#cf4558" text-anchor="start" font-weight="normal" stroke="#cf4558" stroke-width="0.22" >d</text>
<text x="55.05" y="117.55" font-size="6.6" fill="#cf4558" text-anchor="start" font-weight="normal" stroke="#cf4558" stroke-width="0.22" >GEP70-H / GEP80(PB)-H</text>
<text x="156.00" y="117.55" font-size="6.6" fill="#fff" text-anchor="middle" font-weight="normal" stroke="#fff" stroke-width="1.2" >21 / 29</text>
<text x="156.00" y="117.55" font-size="6.6" fill="#cf4558" text-anchor="middle" font-weight="normal" stroke="#cf4558" stroke-width="0.22" >21 / 29</text>
<text x="187.90" y="117.55" font-size="6.6" fill="#cf4558" text-anchor="start" font-weight="normal" stroke="#cf4558" stroke-width="0.22" >45%</text>
<text x="204.90" y="117.55" font-size="6.6" fill="#cf4558" text-anchor="start" font-weight="normal" stroke="#cf4558" stroke-width="0.22" >(27, 63)</text>
<text x="103.00" y="124.30" font-size="6.6" fill="#222" text-anchor="start" font-weight="normal" stroke="#222" stroke-width="0.3" >Logrank P-value &lt; .0001</text>
<text x="418.20" y="92.90" font-size="6.7" fill="#fff" text-anchor="middle" font-weight="normal" stroke="#fff" stroke-width="1.2" >Deaths / N</text>
<text x="418.20" y="92.90" font-size="6.7" fill="#222" text-anchor="middle" font-weight="normal" stroke="#222" stroke-width="0.3" >Deaths / N</text>
<text x="463.20" y="87.00" font-size="6.9" fill="#222" text-anchor="middle" font-weight="normal" stroke="#222" stroke-width="0.3" >2-Year</text>
<text x="463.20" y="92.90" font-size="6.85" fill="#222" text-anchor="middle" font-weight="normal" stroke="#222" stroke-width="0.3" >Estimate</text>
<text x="312.20" y="99.20" font-size="6.6" fill="#4040c4" text-anchor="start" font-weight="normal" stroke="#4040c4" stroke-width="0.22" >a</text>
<text x="319.90" y="99.20" font-size="6.6" fill="#4040c4" text-anchor="start" font-weight="normal" stroke="#4040c4" stroke-width="0.22" >GEP70-L / GEP80(PB)-L</text>
<text x="417.90" y="99.20" font-size="6.6" fill="#fff" text-anchor="middle" font-weight="normal" stroke="#fff" stroke-width="1.2" >21 / 202</text>
<text x="417.90" y="99.20" font-size="6.6" fill="#4040c4" text-anchor="middle" font-weight="normal" stroke="#4040c4" stroke-width="0.22" >21 / 202</text>
<text x="443.10" y="99.20" font-size="6.6" fill="#4040c4" text-anchor="start" font-weight="normal" stroke="#4040c4" stroke-width="0.22" >92%</text>
<text x="460.50" y="99.20" font-size="6.6" fill="#4040c4" text-anchor="start" font-weight="normal" stroke="#4040c4" stroke-width="0.22" >(88, 96)</text>
<text x="312.20" y="105.60" font-size="6.6" fill="#72955c" text-anchor="start" font-weight="normal" stroke="#72955c" stroke-width="0.22" >b</text>
<text x="319.90" y="105.60" font-size="6.6" fill="#72955c" text-anchor="start" font-weight="normal" stroke="#72955c" stroke-width="0.22" >GEP70-L / GEP80(PB)-H</text>
<text x="417.90" y="105.60" font-size="6.6" fill="#fff" text-anchor="middle" font-weight="normal" stroke="#fff" stroke-width="1.2" >7 / 19</text>
<text x="417.90" y="105.60" font-size="6.6" fill="#72955c" text-anchor="middle" font-weight="normal" stroke="#72955c" stroke-width="0.22" >7 / 19</text>
<text x="443.10" y="105.60" font-size="6.6" fill="#72955c" text-anchor="start" font-weight="normal" stroke="#72955c" stroke-width="0.22" >68%</text>
<text x="460.50" y="105.60" font-size="6.6" fill="#72955c" text-anchor="start" font-weight="normal" stroke="#72955c" stroke-width="0.22" >(47, 89)</text>
<text x="312.20" y="111.70" font-size="6.6" fill="#f0d294" text-anchor="start" font-weight="normal" stroke="#f0d294" stroke-width="0.12" >c</text>
<text x="319.90" y="111.70" font-size="6.6" fill="#f0d294" text-anchor="start" font-weight="normal" stroke="#f0d294" stroke-width="0.12" >GEP70-H / GEP80(PB)-L</text>
<text x="417.90" y="111.70" font-size="6.6" fill="#f0d294" text-anchor="middle" font-weight="normal" stroke="#f0d294" stroke-width="0.12" >4 / 20</text>
<text x="443.10" y="111.70" font-size="6.6" fill="#f0d294" text-anchor="start" font-weight="normal" stroke="#f0d294" stroke-width="0.12" >83%</text>
<text x="460.50" y="111.70" font-size="6.6" fill="#f0d294" text-anchor="start" font-weight="normal" stroke="#f0d294" stroke-width="0.12" >(65, 100)</text>
<text x="312.20" y="118.00" font-size="6.6" fill="#cf4558" text-anchor="start" font-weight="normal" stroke="#cf4558" stroke-width="0.22" >d</text>
<text x="319.90" y="118.00" font-size="6.6" fill="#cf4558" text-anchor="start" font-weight="normal" stroke="#cf4558" stroke-width="0.22" >GEP70-H / GEP80(PB)-H</text>
<text x="417.90" y="118.00" font-size="6.6" fill="#fff" text-anchor="middle" font-weight="normal" stroke="#fff" stroke-width="1.2" >18 / 29</text>
<text x="417.90" y="118.00" font-size="6.6" fill="#cf4558" text-anchor="middle" font-weight="normal" stroke="#cf4558" stroke-width="0.22" >18 / 29</text>
<text x="443.10" y="118.00" font-size="6.6" fill="#cf4558" text-anchor="start" font-weight="normal" stroke="#cf4558" stroke-width="0.22" >59%</text>
<text x="460.50" y="118.00" font-size="6.6" fill="#cf4558" text-anchor="start" font-weight="normal" stroke="#cf4558" stroke-width="0.22" >(41, 77)</text>
<text x="361.90" y="124.30" font-size="6.6" fill="#222" text-anchor="start" font-weight="normal" stroke="#222" stroke-width="0.3" >Logrank P-value &lt; .0001</text>
<text x="155.90" y="276.70" font-size="6.7" fill="#fff" text-anchor="middle" font-weight="normal" stroke="#fff" stroke-width="1.2" >Progressions / N</text>
<text x="155.90" y="276.70" font-size="6.7" fill="#222" text-anchor="middle" font-weight="normal" stroke="#222" stroke-width="0.3" >Progressions / N</text>
<text x="207.00" y="270.70" font-size="6.9" fill="#222" text-anchor="middle" font-weight="normal" stroke="#222" stroke-width="0.3" >2-Year</text>
<text x="207.00" y="276.60" font-size="6.85" fill="#222" text-anchor="middle" font-weight="normal" stroke="#222" stroke-width="0.3" >Estimate</text>
<text x="47.35" y="283.00" font-size="6.6" fill="#4040c4" text-anchor="start" font-weight="normal" stroke="#4040c4" stroke-width="0.22" >a</text>
<text x="55.05" y="283.00" font-size="6.6" fill="#4040c4" text-anchor="start" font-weight="normal" stroke="#4040c4" stroke-width="0.22" >GEP70-L / GEP80(BL)-L</text>
<text x="156.00" y="283.00" font-size="6.6" fill="#fff" text-anchor="middle" font-weight="normal" stroke="#fff" stroke-width="1.2" >34 / 215</text>
<text x="156.00" y="283.00" font-size="6.6" fill="#4040c4" text-anchor="middle" font-weight="normal" stroke="#4040c4" stroke-width="0.22" >34 / 215</text>
<text x="186.90" y="283.00" font-size="6.6" fill="#4040c4" text-anchor="start" font-weight="normal" stroke="#4040c4" stroke-width="0.22" >88%</text>
<text x="204.80" y="283.00" font-size="6.6" fill="#4040c4" text-anchor="start" font-weight="normal" stroke="#4040c4" stroke-width="0.22" >(83, 92)</text>
<text x="47.35" y="289.30" font-size="6.6" fill="#72955c" text-anchor="start" font-weight="normal" stroke="#72955c" stroke-width="0.22" >b</text>
<text x="55.05" y="289.30" font-size="6.6" fill="#72955c" text-anchor="start" font-weight="normal" stroke="#72955c" stroke-width="0.22" >GEP70-L / GEP80(BL)-H</text>
<text x="156.00" y="289.30" font-size="6.6" fill="#fff" text-anchor="middle" font-weight="normal" stroke="#fff" stroke-width="1.2" >5 / 6</text>
<text x="156.00" y="289.30" font-size="6.6" fill="#72955c" text-anchor="middle" font-weight="normal" stroke="#72955c" stroke-width="0.22" >5 / 6</text>
<text x="186.90" y="289.30" font-size="6.6" fill="#72955c" text-anchor="start" font-weight="normal" stroke="#72955c" stroke-width="0.22" >33%</text>
<text x="204.80" y="289.30" font-size="6.6" fill="#72955c" text-anchor="start" font-weight="normal" stroke="#72955c" stroke-width="0.22" >(4, 63)</text>
<text x="47.35" y="295.55" font-size="6.6" fill="#f0d294" text-anchor="start" font-weight="normal" stroke="#f0d294" stroke-width="0.12" >c</text>
<text x="55.05" y="295.55" font-size="6.6" fill="#f0d294" text-anchor="start" font-weight="normal" stroke="#f0d294" stroke-width="0.12" >GEP70-H / GEP80(BL)-L</text>
<text x="156.00" y="295.55" font-size="6.6" fill="#f0d294" text-anchor="middle" font-weight="normal" stroke="#f0d294" stroke-width="0.12" >10 / 27</text>
<text x="186.90" y="295.55" font-size="6.6" fill="#f0d294" text-anchor="start" font-weight="normal" stroke="#f0d294" stroke-width="0.12" >77%</text>
<text x="204.80" y="295.55" font-size="6.6" fill="#f0d294" text-anchor="start" font-weight="normal" stroke="#f0d294" stroke-width="0.12" >(59, 95)</text>
<text x="47.35" y="301.85" font-size="6.6" fill="#cf4558" text-anchor="start" font-weight="normal" stroke="#cf4558" stroke-width="0.22" >d</text>
<text x="55.05" y="301.85" font-size="6.6" fill="#cf4558" text-anchor="start" font-weight="normal" stroke="#cf4558" stroke-width="0.22" >GEP70-H / GEP80(BL)-H</text>
<text x="156.00" y="301.85" font-size="6.6" fill="#fff" text-anchor="middle" font-weight="normal" stroke="#fff" stroke-width="1.2" >16 / 22</text>
<text x="156.00" y="301.85" font-size="6.6" fill="#cf4558" text-anchor="middle" font-weight="normal" stroke="#cf4558" stroke-width="0.22" >16 / 22</text>
<text x="186.90" y="301.85" font-size="6.6" fill="#cf4558" text-anchor="start" font-weight="normal" stroke="#cf4558" stroke-width="0.22" >41%</text>
<text x="204.80" y="301.85" font-size="6.6" fill="#cf4558" text-anchor="start" font-weight="normal" stroke="#cf4558" stroke-width="0.22" >(20, 61)</text>
<text x="103.10" y="308.10" font-size="6.6" fill="#222" text-anchor="start" font-weight="normal" stroke="#222" stroke-width="0.3" >Logrank P-value &lt; .0001</text>
<text x="416.70" y="275.60" font-size="6.7" fill="#fff" text-anchor="middle" font-weight="normal" stroke="#fff" stroke-width="1.2" >Deaths / N</text>
<text x="416.70" y="275.60" font-size="6.7" fill="#222" text-anchor="middle" font-weight="normal" stroke="#222" stroke-width="0.3" >Deaths / N</text>
<text x="459.00" y="269.80" font-size="6.9" fill="#222" text-anchor="middle" font-weight="normal" stroke="#222" stroke-width="0.3" >2-Year</text>
<text x="459.00" y="275.70" font-size="6.85" fill="#222" text-anchor="middle" font-weight="normal" stroke="#222" stroke-width="0.3" >Estimate</text>
<text x="312.20" y="282.40" font-size="6.6" fill="#4040c4" text-anchor="start" font-weight="normal" stroke="#4040c4" stroke-width="0.22" >a</text>
<text x="319.90" y="282.40" font-size="6.6" fill="#4040c4" text-anchor="start" font-weight="normal" stroke="#4040c4" stroke-width="0.22" >GEP70-L / GEP80(BL)-L</text>
<text x="416.20" y="282.40" font-size="6.6" fill="#fff" text-anchor="middle" font-weight="normal" stroke="#fff" stroke-width="1.2" >26 / 215</text>
<text x="416.20" y="282.40" font-size="6.6" fill="#4040c4" text-anchor="middle" font-weight="normal" stroke="#4040c4" stroke-width="0.22" >26 / 215</text>
<text x="438.90" y="282.40" font-size="6.6" fill="#4040c4" text-anchor="start" font-weight="normal" stroke="#4040c4" stroke-width="0.22" >91%</text>
<text x="455.80" y="282.40" font-size="6.6" fill="#4040c4" text-anchor="start" font-weight="normal" stroke="#4040c4" stroke-width="0.22" >(87, 95)</text>
<text x="312.20" y="288.50" font-size="6.6" fill="#72955c" text-anchor="start" font-weight="normal" stroke="#72955c" stroke-width="0.22" >b</text>
<text x="319.90" y="288.50" font-size="6.6" fill="#72955c" text-anchor="start" font-weight="normal" stroke="#72955c" stroke-width="0.22" >GEP70-L / GEP80(BL)-H</text>
<text x="416.20" y="288.50" font-size="6.6" fill="#fff" text-anchor="middle" font-weight="normal" stroke="#fff" stroke-width="1.2" >4 / 6</text>
<text x="416.20" y="288.50" font-size="6.6" fill="#72955c" text-anchor="middle" font-weight="normal" stroke="#72955c" stroke-width="0.22" >4 / 6</text>
<text x="438.90" y="288.50" font-size="6.6" fill="#72955c" text-anchor="start" font-weight="normal" stroke="#72955c" stroke-width="0.22" >50%</text>
<text x="455.80" y="288.50" font-size="6.6" fill="#72955c" text-anchor="start" font-weight="normal" stroke="#72955c" stroke-width="0.22" >(10, 90)</text>
<text x="312.20" y="294.60" font-size="6.6" fill="#f0d294" text-anchor="start" font-weight="normal" stroke="#f0d294" stroke-width="0.12" >c</text>
<text x="319.90" y="294.60" font-size="6.6" fill="#f0d294" text-anchor="start" font-weight="normal" stroke="#f0d294" stroke-width="0.12" >GEP70-H / GEP80(BL)-L</text>
<text x="416.20" y="294.60" font-size="6.6" fill="#f0d294" text-anchor="middle" font-weight="normal" stroke="#f0d294" stroke-width="0.12" >7 / 27</text>
<text x="438.90" y="294.60" font-size="6.6" fill="#f0d294" text-anchor="start" font-weight="normal" stroke="#f0d294" stroke-width="0.12" >81%</text>
<text x="455.80" y="294.60" font-size="6.6" fill="#f0d294" text-anchor="start" font-weight="normal" stroke="#f0d294" stroke-width="0.12" >(64, 98)</text>
<text x="312.20" y="300.90" font-size="6.6" fill="#cf4558" text-anchor="start" font-weight="normal" stroke="#cf4558" stroke-width="0.22" >d</text>
<text x="319.90" y="300.90" font-size="6.6" fill="#cf4558" text-anchor="start" font-weight="normal" stroke="#cf4558" stroke-width="0.22" >GEP70-H / GEP80(BL)-H</text>
<text x="416.20" y="300.90" font-size="6.6" fill="#fff" text-anchor="middle" font-weight="normal" stroke="#fff" stroke-width="1.2" >15 / 22</text>
<text x="416.20" y="300.90" font-size="6.6" fill="#cf4558" text-anchor="middle" font-weight="normal" stroke="#cf4558" stroke-width="0.22" >15 / 22</text>
<text x="438.90" y="300.90" font-size="6.6" fill="#cf4558" text-anchor="start" font-weight="normal" stroke="#cf4558" stroke-width="0.22" >55%</text>
<text x="455.80" y="300.90" font-size="6.6" fill="#cf4558" text-anchor="start" font-weight="normal" stroke="#cf4558" stroke-width="0.22" >(34, 75)</text>
<text x="358.90" y="307.70" font-size="6.6" fill="#222" text-anchor="start" font-weight="normal" stroke="#222" stroke-width="0.3" >Logrank P-value &lt; .0001</text>
</svg></body></html>
